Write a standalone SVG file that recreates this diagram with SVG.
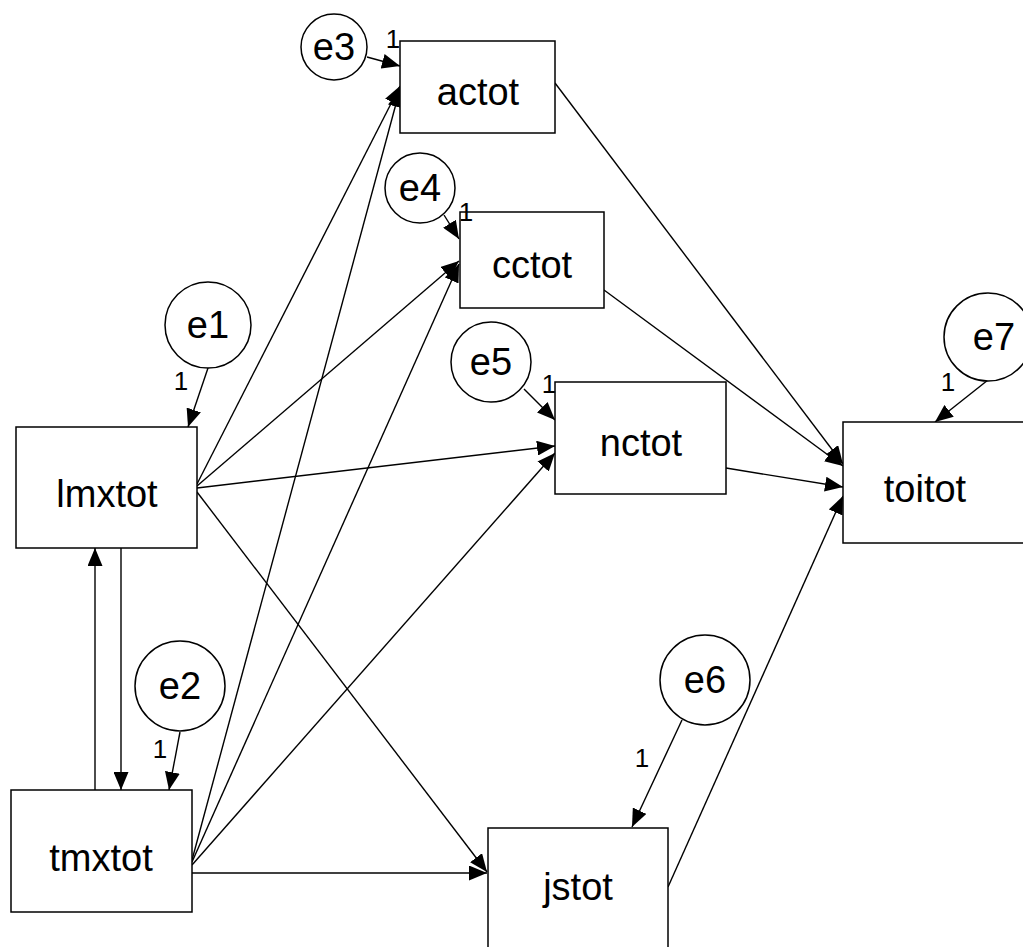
<svg xmlns="http://www.w3.org/2000/svg" width="1023" height="947" viewBox="0 0 1023 947">
<style>
.box{fill:#fff;stroke:#000;stroke-width:1.5}
.err{fill:#fff;stroke:#000;stroke-width:1.5}
.lbl{font-family:"Liberation Sans",Arial,sans-serif;font-size:38px;text-anchor:middle;fill:#000}
.one{font-family:"Liberation Sans",Arial,sans-serif;font-size:26px;text-anchor:middle;fill:#000}
.c{fill:none;stroke:#000;stroke-width:1.4;marker-end:url(#ah)}
</style>
<defs>
<marker id="ah" markerUnits="userSpaceOnUse" markerWidth="19" markerHeight="15" refX="18" refY="7.5" orient="auto">
<path d="M0,0 L18,7.5 L0,15 z" fill="#000"/>
</marker>
</defs>
<g id="connectors">
<path class="c" d="M367,57 L400,66"/>
<path class="c" d="M444,215 L459,239"/>
<path class="c" d="M524,389 L555,420"/>
<path class="c" d="M208,368 L188,427"/>
<path class="c" d="M180,732 L169,790"/>
<path class="c" d="M682,720 L632,827"/>
<path class="c" d="M988,380 L935,422"/>
<path class="c" d="M95,790 L95,548"/>
<path class="c" d="M121,548 L121,790"/>
<path class="c" d="M197,484 L400,86"/>
<path class="c" d="M197,486 L459,261"/>
<path class="c" d="M197,488 L555,446"/>
<path class="c" d="M197,492 L487,872"/>
<path class="c" d="M192,860 L400,89"/>
<path class="c" d="M192,862 L459,264"/>
<path class="c" d="M192,865 L555,453"/>
<path class="c" d="M192,873 L487,873"/>
<path class="c" d="M555,83 L843,464"/>
<path class="c" d="M604,290 L843,466"/>
<path class="c" d="M726,468 L843,487"/>
<path class="c" d="M668,887 L843,496"/>
</g>
<g id="actot"><rect class="box" x="400" y="41" width="155" height="92"/><text class="lbl" x="478" y="105">actot</text></g>
<g id="cctot"><rect class="box" x="460" y="212" width="144" height="96"/><text class="lbl" x="532" y="278">cctot</text></g>
<g id="nctot"><rect class="box" x="555" y="382" width="171" height="112"/><text class="lbl" x="641" y="456">nctot</text></g>
<g id="lmxtot"><rect class="box" x="16" y="427" width="181" height="121"/><text class="lbl" x="107" y="507">lmxtot</text></g>
<g id="tmxtot"><rect class="box" x="11" y="790" width="181" height="122"/><text class="lbl" x="101" y="871">tmxtot</text></g>
<g id="jstot"><rect class="box" x="488" y="828" width="180" height="130"/><text class="lbl" x="578" y="900">jstot</text></g>
<g id="toitot"><rect class="box" x="843" y="422" width="190" height="121"/><text class="lbl" x="925" y="502">toitot</text></g>
<g id="e1"><circle class="err" cx="208" cy="325" r="43"/><text class="lbl" x="208" y="338">e1</text><text class="one" x="181" y="390">1</text></g>
<g id="e2"><circle class="err" cx="180" cy="686" r="45"/><text class="lbl" x="180" y="699">e2</text><text class="one" x="160" y="758">1</text></g>
<g id="e3"><circle class="err" cx="334" cy="47" r="33"/><text class="lbl" x="334" y="60">e3</text><text class="one" x="393" y="48">1</text></g>
<g id="e4"><circle class="err" cx="420" cy="188" r="35"/><text class="lbl" x="420" y="201">e4</text><text class="one" x="466" y="221">1</text></g>
<g id="e5"><circle class="err" cx="491" cy="362" r="40"/><text class="lbl" x="491" y="375">e5</text><text class="one" x="549" y="393">1</text></g>
<g id="e6"><circle class="err" cx="705" cy="680" r="45"/><text class="lbl" x="705" y="693">e6</text><text class="one" x="642" y="767">1</text></g>
<g id="e7"><circle class="err" cx="988" cy="337" r="44"/><text class="lbl" x="994" y="350">e7</text><text class="one" x="948" y="391">1</text></g>
</svg>
